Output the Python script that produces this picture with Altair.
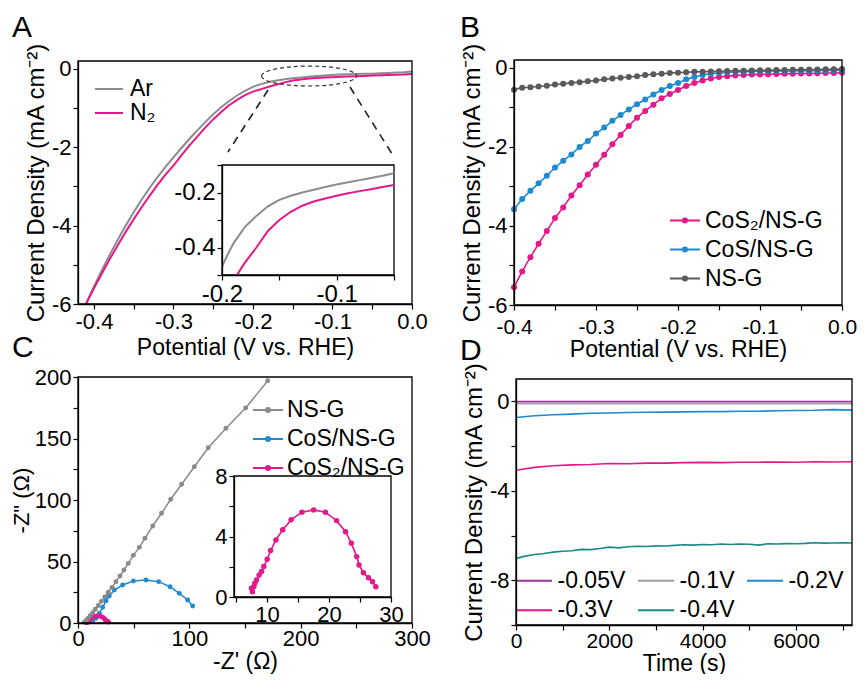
import altair as alt
import pandas as pd

FONT = "Liberation Sans"
W, H = 849, 666

MAG = "#e4178c"
BLUE = "#1e8ad0"
GRAY_A = "#8c8c8c"
GRAY_B = "#5a5a5a"
GRAY_C = "#8a8a8a"
PURPLE = "#9c2f9f"
TEAL = "#1b8a86"
GRAY_D = "#a0a0a0"

# ---------------- Panel A : LSV in Ar / N2 ----------------
a_x = [-0.41, -0.40, -0.39, -0.38, -0.37, -0.36, -0.35, -0.34, -0.33, -0.32, -0.31,
       -0.30, -0.29, -0.28, -0.27, -0.26, -0.25, -0.24, -0.23, -0.22, -0.21,
       -0.20, -0.19, -0.18, -0.17, -0.16, -0.15, -0.14, -0.13, -0.12, -0.11,
       -0.10, -0.09, -0.08, -0.07, -0.06, -0.05, -0.04, -0.03, -0.02, -0.01, 0.0]
a_ar = [-6.00, -5.56, -5.14, -4.74, -4.36, -4.00, -3.66, -3.34, -3.04, -2.76, -2.50,
        -2.26, -2.02, -1.79, -1.57, -1.36, -1.16, -0.98, -0.82, -0.68, -0.56,
        -0.46, -0.39, -0.335, -0.295, -0.265, -0.24, -0.22, -0.20, -0.185, -0.17,
        -0.156, -0.147, -0.14, -0.133, -0.128, -0.123, -0.115, -0.105, -0.095, -0.085, -0.07]
a_n2 = [-6.00, -5.60, -5.22, -4.85, -4.50, -4.16, -3.84, -3.53, -3.24, -2.96, -2.70,
        -2.47, -2.21, -1.96, -1.73, -1.50, -1.29, -1.10, -0.93, -0.79, -0.67,
        -0.58, -0.52, -0.455, -0.40, -0.345, -0.30, -0.27, -0.248, -0.233, -0.222,
        -0.212, -0.203, -0.195, -0.188, -0.180, -0.173, -0.165, -0.158, -0.150, -0.142, -0.130]

# inset of panel A (zoomed region)
ai_ar_x = [-0.200, -0.195, -0.190, -0.180, -0.170, -0.160, -0.150, -0.140, -0.130,
           -0.120, -0.110, -0.100, -0.090, -0.080, -0.070, -0.060, -0.050]
ai_ar_y = [-0.470, -0.425, -0.385, -0.325, -0.285, -0.250, -0.227, -0.212, -0.200,
           -0.190, -0.180, -0.171, -0.163, -0.155, -0.147, -0.139, -0.130]
ai_n2_x = [-0.187, -0.180, -0.170, -0.160, -0.150, -0.140, -0.130, -0.120,
           -0.110, -0.100, -0.090, -0.080, -0.070, -0.060, -0.050]
ai_n2_y = [-0.500, -0.455, -0.400, -0.340, -0.300, -0.270, -0.248, -0.233,
           -0.222, -0.212, -0.203, -0.195, -0.188, -0.180, -0.173]

# zoom marker annotation (ellipse centre and connector ends, data units of panel A)
zoom_center = [-0.1295, -0.183]
zoom_lines_x1 = [-0.181, -0.078]
zoom_lines_y1 = [-0.54, -0.463]
zoom_lines_x2 = [-0.2314, -0.0226]
zoom_lines_y2 = [-2.122, -2.249]

# ---------------- Panel B : LSV of the catalysts ----------------
b_x = [-0.40, -0.39, -0.38, -0.37, -0.36, -0.35, -0.34, -0.33, -0.32, -0.31,
       -0.30, -0.29, -0.28, -0.27, -0.26, -0.25, -0.24, -0.23, -0.22, -0.21,
       -0.20, -0.19, -0.18, -0.17, -0.16, -0.15, -0.14, -0.13, -0.12, -0.11,
       -0.10, -0.09, -0.08, -0.07, -0.06, -0.05, -0.04, -0.03, -0.02, -0.01, 0.0]
b_cos2 = [-5.55, -5.15, -4.79, -4.45, -4.13, -3.80, -3.53, -3.23, -2.97, -2.70,
          -2.45, -2.20, -1.93, -1.70, -1.47, -1.26, -1.09, -0.93, -0.77, -0.66,
          -0.56, -0.46, -0.38, -0.32, -0.27, -0.23, -0.21, -0.19, -0.18, -0.17,
          -0.165, -0.16, -0.155, -0.15, -0.145, -0.14, -0.14, -0.135, -0.13, -0.13, -0.125]
b_cos = [-3.58, -3.32, -3.11, -2.92, -2.73, -2.52, -2.35, -2.19, -2.00, -1.85,
         -1.66, -1.51, -1.34, -1.19, -1.05, -0.92, -0.80, -0.67, -0.56, -0.46,
         -0.38, -0.29, -0.23, -0.18, -0.145, -0.125, -0.11, -0.10, -0.095, -0.09,
         -0.085, -0.082, -0.08, -0.077, -0.075, -0.072, -0.07, -0.068, -0.065, -0.062, -0.06]
b_nsg = [-0.55, -0.50, -0.49, -0.47, -0.45, -0.42, -0.40, -0.38, -0.36, -0.34,
         -0.32, -0.29, -0.27, -0.25, -0.23, -0.21, -0.18, -0.16, -0.15, -0.13,
         -0.12, -0.11, -0.10, -0.095, -0.09, -0.085, -0.08, -0.075, -0.07, -0.066,
         -0.062, -0.058, -0.055, -0.052, -0.049, -0.046, -0.043, -0.04, -0.037, -0.034, -0.03]

# ---------------- Panel C : Nyquist plots ----------------
c_ns_x = [170.4, 150.6, 132.9, 117.0, 104.5, 93.1, 83.3, 75.0, 67.1, 60.2,
          55.1, 49.7, 45.2, 41.3, 37.7, 34.1, 30.5, 27.2, 24.0, 21.0,
          18.2, 15.6, 13.2, 11.0, 9.0, 7.2, 5.6]
c_ns_y = [197.0, 174.8, 158.3, 142.5, 127.0, 112.8, 100.6, 89.2, 78.9, 68.9,
          61.5, 55.0, 48.5, 43.1, 38.2, 33.6, 29.0, 25.0, 21.2, 17.6,
          14.2, 11.2, 8.4, 6.0, 3.8, 2.0, 0.6]
c_cos_x = [8.5, 11.0, 13.5, 16.2, 19.2, 22.2, 25.2, 28.1, 32.6, 40.1, 49.7, 61.1,
           72.5, 82.6, 91.0, 98.5, 103.0]
c_cos_y = [0.3, 1.5, 2.5, 3.8, 7.9, 12.8, 18.1, 22.0, 26.8, 30.9, 34.1, 35.0,
           33.6, 29.5, 24.1, 18.7, 13.8]
c_cos2_x = [7.51, 7.67, 7.89, 8.05, 8.33, 8.75, 9.14, 9.51, 10.05, 10.60, 11.46, 12.55,
            13.90, 15.64, 17.53, 19.43, 21.22, 22.68, 23.61, 24.47, 24.85, 25.56,
            26.37, 27.02, 27.56]
c_cos2_y = [0.58, 0.35, 0.68, 0.91, 1.13, 1.46, 1.68, 2.01, 2.50, 3.07, 3.77, 4.44,
            5.10, 5.61, 5.76, 5.61, 5.05, 4.32, 3.56, 2.67, 2.12, 1.61,
            1.28, 1.01, 0.68]

# ---------------- Panel D : chronoamperometry ----------------
d_t_coarse = [0, 400, 800, 1200, 1600, 2000, 2400, 2800, 3200, 3600, 4000,
              4400, 4800, 5200, 5600, 6000, 6400, 6800, 7200]
d_t_fine = list(range(0, 7201, 200))
d_t_flat = [0, 7200]
d_005 = [-0.01, -0.01]
d_01 = [-0.11, -0.11]
d_02 = [-0.72, -0.64, -0.60, -0.57, -0.53, -0.52, -0.50, -0.49, -0.48, -0.47, -0.46,
        -0.46, -0.44, -0.44, -0.42, -0.41, -0.40, -0.37, -0.39]
d_03 = [-3.08, -2.95, -2.88, -2.84, -2.82, -2.78, -2.79, -2.76, -2.76, -2.74, -2.73,
        -2.74, -2.72, -2.72, -2.71, -2.72, -2.70, -2.71, -2.70]
d_04 = [-7.02, -6.92, -6.85, -6.80, -6.74, -6.70, -6.68, -6.62, -6.63, -6.58,
        -6.52, -6.55, -6.50, -6.48, -6.49, -6.46, -6.47, -6.44, -6.41, -6.43,
        -6.40, -6.41, -6.38, -6.40, -6.38, -6.39, -6.43, -6.37, -6.38, -6.36,
        -6.37, -6.35, -6.32, -6.34, -6.33, -6.32, -6.33]

MINUS = "\u2212"


def label_expr(test, fmt):
    return f"({test}) ? replace(format(datum.value, '{fmt}'), '{MINUS}', '-') : ''"


def ax(orient, offset, values, test, fmt, title=None, lsize=22, tsize=23, tpad=4, lpad=2):
    kw = dict(orient=orient, offset=offset, values=values,
              labelExpr=label_expr(test, fmt), grid=False, labelFlush=False,
              labelOverlap=False, tickSize=5, tickWidth=1.2, domainWidth=1.3,
              domainColor="black", tickColor="black", labelColor="black",
              labelFont=FONT, labelFontSize=lsize, labelPadding=lpad, zindex=1,
              titleFont=FONT, titleFontSize=tsize, titleFontWeight="normal",
              titleColor="black", titlePadding=tpad, title=title)
    return alt.Axis(**kw)


def leg(x, y, half_len, dot, loff, rowpad, cols=1, colpad=10):
    path = "M-2,0H2"
    if dot:
        path += "M0.27,0A0.27,0.27,0,1,1,-0.27,0A0.27,0.27,0,1,1,0.27,0"
    scale = half_len / 2.0
    size = (2 * scale) ** 2
    kw = dict(orient="none", legendX=x, legendY=y, title=None,
              symbolType=path, symbolSize=size, symbolStrokeWidth=2,
              labelFont=FONT, labelFontSize=23, labelColor="black",
              labelOffset=loff, rowPadding=rowpad, padding=0,
              columns=cols, columnPadding=colpad, symbolOpacity=1)
    if cols > 1:
        kw["direction"] = "horizontal"
    return alt.Legend(**kw)


def frame(xs, ys, axx, axy, xmin, xmax, ymin, ymax, fill=None):
    one = pd.DataFrame({"k": [0]})
    if fill:
        m = alt.Chart(one).mark_rect(fill=fill, stroke="black", strokeWidth=1.3)
    else:
        m = alt.Chart(one).mark_rect(filled=False, stroke="black", strokeWidth=1.3)
    return m.encode(
        x=alt.XDatum(xmin, type="quantitative", scale=xs, axis=axx),
        x2=alt.X2Datum(xmax),
        y=alt.YDatum(ymin, type="quantitative", scale=ys, axis=axy),
        y2=alt.Y2Datum(ymax),
    )


TEST_01 = "abs(datum.value*10 - round(datum.value*10)) < 0.001"
TEST_02 = "abs(datum.value*5 - round(datum.value*5)) < 0.001"
CD_TITLE = "Current Density (mA cm\u207b\u00b2)"
one = pd.DataFrame({"k": [0]})

# ---------- Panel A ----------
xA = alt.Scale(domain=[-0.42, 0.0], range=[70, 404], nice=False, zero=False)
yA = alt.Scale(domain=[-6, 0.2], range=[296, 53], nice=False, zero=False)
axXA = ax("bottom", -(H - 296), [-0.4, -0.35, -0.3, -0.25, -0.2, -0.15, -0.1, -0.05, 0.0],
          TEST_01, ".1f", "Potential (V vs. RHE)", tpad=4)
axYA = ax("left", -70, [-6, -5, -4, -3, -2, -1, 0], "datum.value % 2 == 0", "d",
          CD_TITLE, tsize=24, tpad=3)
nA = len(a_x)
dfA = pd.DataFrame({"x": a_x + a_x, "y": a_ar + a_n2, "s": ["Ar"] * nA + ["N\u2082"] * nA})
lineA = alt.Chart(dfA).mark_line(strokeWidth=2).encode(
    x=alt.X("x:Q", scale=xA, axis=axXA),
    y=alt.Y("y:Q", scale=yA, axis=axYA),
    color=alt.Color("s:N", scale=alt.Scale(domain=["Ar", "N\u2082"], range=[GRAY_A, MAG]),
                    legend=leg(89.5, 69.5, 14, False, 9.5, 0)),
)
ELLIPSE = "M-1,0A1,0.21,0,1,1,1,0A1,0.21,0,1,1,-1,0Z"
ellA = alt.Chart(one).mark_point(shape=ELLIPSE, size=9025, filled=False, stroke="#333333",
                                 strokeWidth=1.2, strokeDash=[4, 3], opacity=1).encode(
    x=alt.XDatum(zoom_center[0], type="quantitative", scale=xA, axis=axXA),
    y=alt.YDatum(zoom_center[1], type="quantitative", scale=yA, axis=axYA),
)
connA = alt.Chart(pd.DataFrame({"x": zoom_lines_x1, "y": zoom_lines_y1,
                                "x2": zoom_lines_x2, "y2": zoom_lines_y2})).mark_rule(
    strokeDash=[8, 6], strokeWidth=1.6, color="#222222").encode(
    x=alt.X("x:Q", scale=xA, axis=axXA), y=alt.Y("y:Q", scale=yA, axis=axYA),
    x2="x2:Q", y2="y2:Q")
layerA = alt.layer(lineA, frame(xA, yA, axXA, axYA, -0.42, 0.0, -6, 0.2), ellA, connA)

# ---------- Inset A ----------
xAi = alt.Scale(domain=[-0.2, -0.05], range=[214, 386], nice=False, zero=False)
yAi = alt.Scale(domain=[-0.5, -0.1], range=[267, 157], nice=False, zero=False)
axXAi = ax("bottom", -(H - 267), [-0.2, -0.15, -0.1, -0.05], TEST_01, ".1f", lsize=24)
axYAi = ax("left", -214, [-0.5, -0.4, -0.3, -0.2, -0.1], TEST_02, ".1f", lsize=24)
dfAi = pd.DataFrame({"x": ai_ar_x + ai_n2_x, "y": ai_ar_y + ai_n2_y,
                     "s": ["Ar"] * len(ai_ar_x) + ["N\u2082"] * len(ai_n2_x)})
lineAi = alt.Chart(dfAi).mark_line(strokeWidth=2).encode(
    x=alt.X("x:Q", scale=xAi, axis=axXAi),
    y=alt.Y("y:Q", scale=yAi, axis=axYAi),
    color=alt.Color("s:N", scale=alt.Scale(domain=["Ar", "N\u2082"], range=[GRAY_A, MAG]), legend=None),
)
layerAi = alt.layer(frame(xAi, yAi, axXAi, axYAi, -0.2, -0.05, -0.5, -0.1, fill="white"), lineAi)

# ---------- Panel B ----------
xB = alt.Scale(domain=[-0.4, 0.0], range=[506, 834], nice=False, zero=False)
yB = alt.Scale(domain=[-6, 0.2], range=[297, 52], nice=False, zero=False)
axXB = ax("bottom", -(H - 297), [-0.4, -0.35, -0.3, -0.25, -0.2, -0.15, -0.1, -0.05, 0.0],
          TEST_01, ".1f", "Potential (V vs. RHE)", tpad=1, lsize=21, lpad=6)
axYB = ax("left", -506, [-6, -5, -4, -3, -2, -1, 0], "datum.value % 2 == 0", "d",
          CD_TITLE, tsize=24, tpad=3)
namesB = ["CoS\u2082/NS-G", "CoS/NS-G", "NS-G"]
nB = len(b_x)
dfB = pd.DataFrame({"x": b_x * 3, "y": b_cos2 + b_cos + b_nsg,
                    "s": [namesB[0]] * nB + [namesB[1]] * nB + [namesB[2]] * nB})
lineB = alt.Chart(dfB).mark_line(strokeWidth=1.6, point=alt.OverlayMarkDef(filled=True, size=36)).encode(
    x=alt.X("x:Q", scale=xB, axis=axXB),
    y=alt.Y("y:Q", scale=yB, axis=axYB),
    color=alt.Color("s:N", scale=alt.Scale(domain=namesB, range=[MAG, BLUE, GRAY_B]),
                    legend=leg(665.5, 201, 15, True, 8.5, 5)),
)
layerB = alt.layer(lineB, frame(xB, yB, axXB, axYB, -0.4, 0.0, -6, 0.2))

# ---------- Panel C ----------
xC = alt.Scale(domain=[0, 300], range=[70, 404], nice=False, zero=False)
yC = alt.Scale(domain=[0, 200], range=[615, 369], nice=False, zero=False)
axXC = ax("bottom", -(H - 615), [0, 50, 100, 150, 200, 250, 300],
          "datum.value % 100 == 0", "d", "-Z' (\u03a9)", tpad=1, lpad=0)
axYC = ax("left", -70, [0, 25, 50, 75, 100, 125, 150, 175, 200],
          "datum.value % 50 == 0", "d", "-Z\" (\u03a9)", tsize=22, tpad=1)
namesC = ["NS-G", "CoS/NS-G", "CoS\u2082/NS-G"]
dfC = pd.DataFrame({
    "x": c_ns_x + c_cos_x + c_cos2_x,
    "y": c_ns_y + c_cos_y + c_cos2_y,
    "s": [namesC[0]] * len(c_ns_x) + [namesC[1]] * len(c_cos_x) + [namesC[2]] * len(c_cos2_x),
    "i": list(range(len(c_ns_x))) + list(range(len(c_cos_x))) + list(range(len(c_cos2_x))),
})
lineC = alt.Chart(dfC).mark_line(strokeWidth=1.5, point=alt.OverlayMarkDef(filled=True, size=24)).encode(
    x=alt.X("x:Q", scale=xC, axis=axXC),
    y=alt.Y("y:Q", scale=yC, axis=axYC),
    color=alt.Color("s:N", scale=alt.Scale(domain=namesC, range=[GRAY_C, BLUE, MAG]),
                    legend=leg(248.5, 390.5, 15, True, 7.5, 5)),
    order=alt.Order("i:Q"),
)
layerC = alt.layer(lineC, frame(xC, yC, axXC, axYC, 0, 300, 0, 200))

# ---------- Inset C ----------
xCi = alt.Scale(domain=[4.7, 30], range=[226, 383], nice=False, zero=False)
yCi = alt.Scale(domain=[0, 8], range=[589, 468], nice=False, zero=False)
axXCi = ax("bottom", -(H - 589), [5, 10, 15, 20, 25, 30], "datum.value % 10 == 0", "d")
axYCi = ax("left", -226, [0, 2, 4, 6, 8], "datum.value % 4 == 0", "d")
dfCi = pd.DataFrame({"x": c_cos2_x, "y": c_cos2_y, "i": list(range(len(c_cos2_x)))})
lineCi = alt.Chart(dfCi).mark_line(strokeWidth=1.6, color=MAG,
                                   point=alt.OverlayMarkDef(filled=True, size=30, color=MAG)).encode(
    x=alt.X("x:Q", scale=xCi, axis=axXCi),
    y=alt.Y("y:Q", scale=yCi, axis=axYCi),
    order=alt.Order("i:Q"),
)
layerCi = alt.layer(frame(xCi, yCi, axXCi, axYCi, 4.7, 30, 0, 8, fill="white"), lineCi)

# ---------- Panel D ----------
xD = alt.Scale(domain=[0, 7200], range=[508, 844], nice=False, zero=False)
yD = alt.Scale(domain=[-10, 1], range=[617, 371], nice=False, zero=False)
axXD = ax("bottom", -(H - 617), [0, 1000, 2000, 3000, 4000, 5000, 6000, 7000],
          "datum.value % 2000 == 0", "d", "Time (s)", tpad=1, lpad=0, lsize=21)
axYD = ax("left", -508, [-10, -8, -6, -4, -2, 0], "datum.value % 4 == 0", "d",
          CD_TITLE, tsize=24, tpad=3)
namesD = ["-0.05V", "-0.1V", "-0.2V", "-0.3V", "-0.4V"]
dfD = pd.DataFrame({
    "x": d_t_flat + d_t_flat + d_t_coarse + d_t_coarse + d_t_fine,
    "y": d_005 + d_01 + d_02 + d_03 + d_04,
    "s": [namesD[0]] * 2 + [namesD[1]] * 2 + [namesD[2]] * len(d_t_coarse)
         + [namesD[3]] * len(d_t_coarse) + [namesD[4]] * len(d_t_fine),
})
lineD = alt.Chart(dfD).mark_line(strokeWidth=1.6).encode(
    x=alt.X("x:Q", scale=xD, axis=axXD),
    y=alt.Y("y:Q", scale=yD, axis=axYD),
    color=alt.Color("s:N", scale=alt.Scale(domain=namesD, range=[PURPLE, GRAY_D, BLUE, MAG, TEAL]),
                    legend=leg(514.5, 561, 18, False, 12, 5.7, cols=3, colpad=8)),
)
layerD = alt.layer(lineD, frame(xD, yD, axXD, axYD, 0, 7200, -10, 1))


# ---------- panel letters ----------
def letter(t, x, y):
    return alt.Chart(pd.DataFrame({"t": [t]})).mark_text(
        font=FONT, fontSize=30, align="left", baseline="alphabetic", color="black").encode(
        text="t:N", x=alt.value(x), y=alt.value(y))


chart = alt.layer(
    layerA, layerAi, layerB, layerC, layerCi, layerD,
    letter("A", 4, 29), letter("B", 452, 29), letter("C", 4, 349), letter("D", 452, 352),
).resolve_scale(x="independent", y="independent", color="independent").properties(
    width=W, height=H, autosize=alt.AutoSizeParams(type="none"), padding=0
).configure_view(stroke=None)

chart.save("out.html", embed_options={"renderer": "svg", "actions": False})
